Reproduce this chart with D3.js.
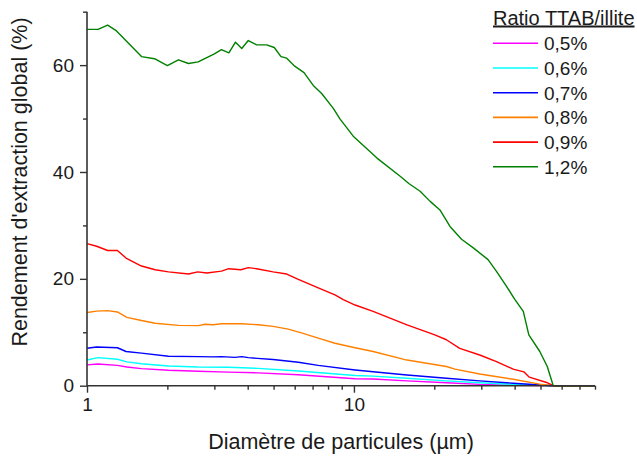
<!DOCTYPE html>
<html><head><meta charset="utf-8">
<script src="https://cdn.jsdelivr.net/npm/d3@7"></script>
<style>
body{margin:0;background:#fff;}
svg{display:block;font-family:"Liberation Sans",Arial,Helvetica,sans-serif;}
</style></head>
<body>
<svg id="chart" width="637" height="457"></svg>
<script>
// ---- data (x: particle diameter in µm, y: yield %) ----
const seriesNames = ["0,5%", "0,6%", "0,7%", "0,8%", "0,9%", "1,2%"];
const seriesColors = ["#ff00ff", "#00ffff", "#0000ff", "#ff8000", "#ff0000", "#008000"];

const x05 = [1.0, 1.10, 1.30, 1.41, 1.60, 2.02, 2.61, 3.38, 4.38, 6.19, 10.1, 11.8, 15.8, 22.2, 29.6, 39.5, 55.8, 80];
const y05 = [3.9, 4.05, 3.8, 3.5, 3.2, 2.9, 2.7, 2.55, 2.4, 2.05, 1.3, 1.25, 0.9, 0.55, 0.25, 0.1, 0, 0];

const x06 = [1.0, 1.10, 1.30, 1.41, 1.60, 2.02, 2.61, 3.38, 4.38, 6.19, 10.1, 11.8, 15.8, 22.2, 29.6, 39.5, 55.8, 80];
const y06 = [4.8, 5.25, 4.95, 4.45, 4.1, 3.7, 3.5, 3.45, 3.25, 2.75, 1.9, 1.8, 1.4, 0.9, 0.55, 0.25, 0, 0];

const x07 = [1.0, 1.087, 1.30, 1.40, 1.60, 2.02, 2.61, 2.97, 3.19, 3.58, 3.80, 4.02, 4.98, 6.19, 7.35, 10.1, 11.8, 15.8, 22.2, 29.6, 39.5, 55.8, 80];
const y07 = [7.0, 7.25, 7.1, 6.4, 6.1, 5.5, 5.45, 5.4, 5.45, 5.3, 5.45, 5.25, 4.9, 4.4, 3.8, 2.95, 2.6, 2.0, 1.4, 0.9, 0.45, 0, 0];

const x08 = [1.0, 1.087, 1.195, 1.30, 1.41, 1.60, 1.80, 2.2, 2.61, 2.77, 2.97, 3.19, 3.80, 4.38, 4.98, 5.67, 6.36, 7.35, 8.49, 10.1, 11.8, 15.8, 22.2, 23.9, 29.6, 39.5, 49.7, 55.8, 80];
const y08 = [13.7, 13.95, 14.06, 13.8, 12.8, 12.2, 11.7, 11.3, 11.25, 11.5, 11.4, 11.6, 11.6, 11.4, 11.1, 10.6, 9.9, 8.9, 7.95, 7.1, 6.4, 4.8, 3.6, 3.1, 2.2, 1.2, 0.3, 0, 0];

const x09 = [1.0, 1.087, 1.195, 1.30, 1.40, 1.60, 1.80, 2.02, 2.4, 2.6, 2.81, 3.19, 3.40, 3.77, 4.02, 4.32, 4.98, 5.6, 6.19, 7.35, 8.49, 9.12, 10.1, 11.8, 15.8, 20.1, 22.2, 24.9, 29.6, 34.2, 39.5, 43.3, 45.4, 52.7, 55.8, 80];
const y09 = [26.6, 26.1, 25.3, 25.3, 23.9, 22.4, 21.7, 21.3, 20.9, 21.3, 21.1, 21.45, 21.9, 21.7, 22.1, 21.9, 21.3, 20.9, 19.9, 18.3, 17.0, 16.1, 15.1, 13.9, 11.4, 9.5, 8.6, 7.0, 5.75, 4.5, 3.1, 2.6, 1.6, 0.6, 0, 0];

const x12 = [1.0, 1.10, 1.195, 1.29, 1.60, 1.79, 2.0, 2.2, 2.4, 2.61, 3.0, 3.19, 3.40, 3.60, 3.80, 4.02, 4.32, 4.71, 5.03, 5.33, 5.6, 6.0, 6.5, 7.04, 7.57, 8.37, 8.86, 9.94, 12.2, 14.9, 16.1, 17.7, 19.3, 21.0, 22.9, 25.3, 28.0, 31.8, 34.2, 37.3, 40.1, 43.1, 45.2, 49.7, 53.0, 55.8, 80];
const y12 = [66.7, 66.7, 67.5, 66.4, 61.6, 61.2, 59.9, 61.0, 60.3, 60.6, 62.1, 62.9, 62.3, 64.3, 63.1, 64.6, 63.8, 63.8, 63.3, 61.6, 61.3, 59.8, 58.6, 56.2, 54.7, 51.9, 49.95, 46.7, 42.6, 39.2, 37.8, 36.4, 34.5, 32.9, 29.8, 27.4, 25.8, 23.6, 21.4, 18.6, 16.1, 13.9, 9.5, 6.4, 3.6, 0, 0];

const xMajorTicks = [1, 10];
const xMinorTicks = [2, 3, 4, 5, 6, 7, 8, 9, 20, 30, 40, 50, 60, 70, 80];
const yMajorTicks = [0, 20, 40, 60];
const yMinorTicks = [10, 30, 50, 70];

const xTitle = "Diamètre de particules (µm)";
const yTitle = "Rendement d'extraction global (%)";
const legendTitle = "Ratio TTAB/illite";

// ---- build ----
const allX = [x05, x06, x07, x08, x09, x12];
const allY = [y05, y06, y07, y08, y09, y12];
const series = seriesNames.map((n, i) => ({
  name: n, color: seriesColors[i],
  pts: allX[i].map((xv, j) => [xv, allY[i][j]])
}));

const svg = d3.select("#chart");
const L = 87, R = 595, T = 11.7, B = 385.7;

const x = d3.scaleLog().domain([1, 80]).range([L, R]);
const y = d3.scaleLinear().domain([0, 70]).range([B, T]);

const axisColor = "#333";
const textColor = "#1a1a1a";

// lines
const line = d3.line().x(d => x(d[0])).y(d => y(d[1]));
svg.append("g").selectAll("path").data(series).join("path")
  .attr("d", d => line(d.pts))
  .attr("fill", "none")
  .attr("stroke", d => d.color)
  .attr("stroke-width", 1.4)
  .attr("stroke-linejoin", "round");

// x axis
const gx = svg.append("g").attr("transform", `translate(0,${B})`);
gx.call(d3.axisBottom(x).tickValues(xMajorTicks).tickFormat(d3.format("d")).tickSize(7).tickPadding(5));
gx.append("g").call(d3.axisBottom(x).tickValues(xMinorTicks).tickFormat("").tickSize(4))
  .select(".domain").remove();
// y axis
const gy = svg.append("g").attr("transform", `translate(${L},0)`);
gy.call(d3.axisLeft(y).tickValues(yMajorTicks).tickFormat(d3.format("d")).tickSize(7).tickPadding(6));
gy.append("g").call(d3.axisLeft(y).tickValues(yMinorTicks).tickFormat("").tickSize(4))
  .select(".domain").remove();

svg.selectAll(".domain").attr("stroke", axisColor).attr("stroke-width", 1.6);
svg.selectAll(".tick line").attr("stroke", axisColor).attr("stroke-width", 1.4);
svg.selectAll(".tick text").attr("fill", textColor)
  .style("font-size", "19px").style("font-family", "'Liberation Sans', Arial, sans-serif");
gx.select(".domain").attr("d", `M${L},0H${R}`);
gy.select(".domain").attr("d", `M0,${B}V${T}`);

// axis titles
svg.append("text")
  .attr("x", (L + R) / 2 + 0).attr("y", 449)
  .attr("text-anchor", "middle")
  .attr("fill", textColor)
  .style("font-size", "21.5px")
  .text(xTitle);
svg.append("text")
  .attr("transform", `translate(27,182) rotate(-90)`)
  .attr("text-anchor", "middle")
  .attr("fill", textColor)
  .style("font-size", "21.5px")
  .text(yTitle);

// legend
const lg = svg.append("g");
lg.append("text").attr("x", 493).attr("y", 24.5)
  .attr("fill", textColor).style("font-size", "20px")
  .style("text-decoration", "underline")
  .text(legendTitle);
const rowY = i => 43.3 + i * 24.7;
series.forEach((s, i) => {
  lg.append("line").attr("x1", 493).attr("x2", 538)
    .attr("y1", rowY(i)).attr("y2", rowY(i))
    .attr("stroke", s.color).attr("stroke-width", 1.6);
  lg.append("text").attr("x", 544).attr("y", rowY(i) + 7)
    .attr("fill", textColor).style("font-size", "19px")
    .text(s.name);
});
</script>
</body></html>
